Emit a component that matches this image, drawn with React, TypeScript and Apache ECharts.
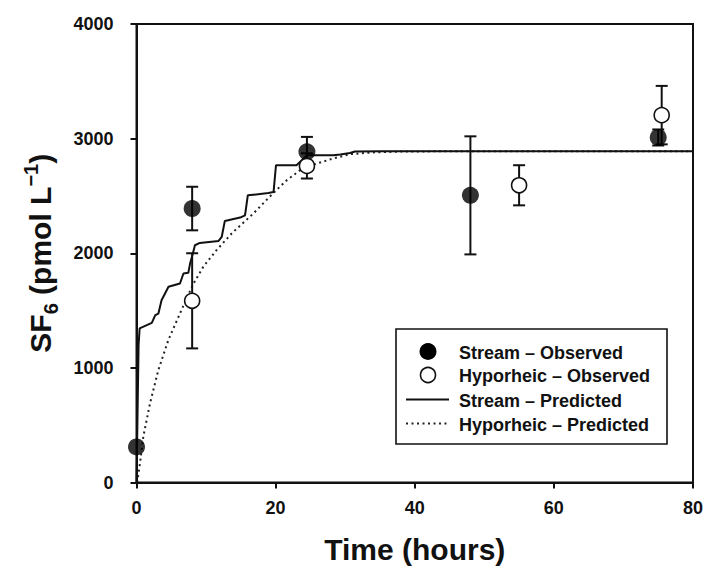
import { useEffect, useRef } from "react";
import * as echarts from "echarts";

// Axis ticks
const xTicks = [0, 20, 40, 60, 80];
const yTicks = [0, 1000, 2000, 3000, 4000];

// Observed SF6 concentrations (mean ± error)
const streamObsTime = [0, 8, 24.5, 48, 75];
const streamObsValue = [310, 2390, 2885, 2505, 3010];
const streamObsErr = [0, 190, 130, 515, 70];

const hypoObsTime = [8, 24.5, 55, 75.5];
const hypoObsValue = [1585, 2762, 2593, 3205];
const hypoObsErr = [415, 110, 175, 255];

// Model predictions
const streamPredTime = [0, 0.1, 0.3, 0.45, 2.2, 2.7, 3.15, 3.6, 4.6, 6.25, 6.75, 7.45, 7.7, 8.1, 8.4, 9.1, 11.8, 12.25, 12.7, 14.9, 15.6, 16.0, 18.95, 19.7, 20.05, 23.0, 24.5, 28.3, 29.3, 30.7, 31.4, 35, 80];
const streamPredValue = [0, 0, 1200, 1344, 1393, 1460, 1474, 1590, 1707, 1736, 1823, 1829, 1910, 1997, 2070, 2090, 2107, 2142, 2282, 2311, 2331, 2505, 2526, 2534, 2767, 2767, 2854, 2854, 2862, 2874, 2888, 2890, 2890];

const hypoPredTime = [0.1, 0.5, 0.98, 1.94, 3.14, 4.58, 6.25, 8.07, 9.6, 11.5, 13.8, 16.8, 19.6, 21.6, 23.5, 25.9, 28.25, 30.65, 34, 38, 45, 80];
const hypoPredValue = [0, 167, 400, 690, 981, 1243, 1475, 1722, 1882, 2027, 2180, 2347, 2521, 2637, 2724, 2783, 2826, 2864, 2880, 2887, 2890, 2890];

const legendLabels = [
  "Stream \u2013 Observed",
  "Hyporheic \u2013 Observed",
  "Stream \u2013 Predicted",
  "Hyporheic \u2013 Predicted",
];

const FONT = "'Liberation Sans', Arial, Helvetica, sans-serif";
const INK = "#111";

function pairs(xs: number[], ys: number[]) {
  return xs.map((x, i) => [x, ys[i]]);
}

function errorRows(xs: number[], ys: number[], es: number[]) {
  return xs
    .map((x, i) => [x, ys[i] - es[i], ys[i] + es[i]])
    .filter((r) => r[2] - r[1] > 0);
}

function renderErrorBar(params: any, api: any) {
  const x = api.value(0);
  const lo = api.coord([x, api.value(1)]);
  const hi = api.coord([x, api.value(2)]);
  const w = 6;
  const style = { stroke: INK, lineWidth: 2 };
  return {
    type: "group",
    children: [
      { type: "line", shape: { x1: lo[0], y1: lo[1], x2: hi[0], y2: hi[1] }, style },
      { type: "line", shape: { x1: lo[0] - w, y1: lo[1], x2: lo[0] + w, y2: lo[1] }, style },
      { type: "line", shape: { x1: hi[0] - w, y1: hi[1], x2: hi[0] + w, y2: hi[1] }, style },
    ],
  };
}

const plainNumber = (v: number) => String(v);

export default function App() {
  const ref = useRef<HTMLDivElement>(null);

  useEffect(() => {
    if (!ref.current) return;
    const chart = echarts.init(ref.current, null, { renderer: "svg" });

    const legendRows = [351.5, 375, 399.5, 423.5];
    const lx0 = 406;
    const lx1 = 449;
    const lcx = 428;

    chart.setOption({
      animation: false,
      backgroundColor: "#fff",
      grid: {
        left: 136.5,
        right: 14,
        top: 24,
        bottom: 88.5,
        show: true,
        borderColor: INK,
        borderWidth: 2,
        backgroundColor: "transparent",
      },
      xAxis: {
        type: "value",
        min: xTicks[0],
        max: xTicks[xTicks.length - 1],
        interval: xTicks[1] - xTicks[0],
        name: "Time (hours)",
        nameLocation: "middle",
        nameGap: 52,
        nameTextStyle: { fontSize: 30, fontWeight: "bold", fontFamily: FONT, color: INK },
        axisLine: { show: true, lineStyle: { color: INK, width: 2 } },
        axisTick: { show: true, inside: false, length: 6, lineStyle: { color: INK, width: 2 } },
        axisLabel: { fontSize: 18, fontWeight: "bold", fontFamily: FONT, color: INK, margin: 16, formatter: plainNumber },
        splitLine: { show: false },
      },
      yAxis: {
        type: "value",
        min: yTicks[0],
        max: yTicks[yTicks.length - 1],
        interval: yTicks[1] - yTicks[0],
        name: "{m|SF}{s|6}{m| (pmol L}{p|\u22121}{m|)}",
        nameLocation: "middle",
        nameGap: 76,
        nameRotate: 90,
        nameTextStyle: {
          fontFamily: FONT,
          fontWeight: "bold",
          color: INK,
          rich: {
            m: { fontSize: 30, fontWeight: "bold", fontFamily: FONT, color: INK, lineHeight: 40, verticalAlign: "middle" },
            s: { fontSize: 20, fontWeight: "bold", fontFamily: FONT, color: INK, lineHeight: 40, verticalAlign: "bottom" },
            p: { fontSize: 20, fontWeight: "bold", fontFamily: FONT, color: INK, lineHeight: 40, verticalAlign: "top" },
          },
        },
        axisLine: { show: true, lineStyle: { color: INK, width: 2 } },
        axisTick: { show: true, inside: false, length: 6, lineStyle: { color: INK, width: 2 } },
        axisLabel: { fontSize: 18, fontWeight: "bold", fontFamily: FONT, color: INK, margin: 23, formatter: plainNumber },
        splitLine: { show: false },
      },
      series: [
        {
          name: "Hyporheic \u2013 Predicted",
          type: "line",
          data: pairs(hypoPredTime, hypoPredValue),
          showSymbol: false,
          symbol: "none",
          lineStyle: { color: "#222", width: 2, type: [2, 3.5], cap: "butt" },
          z: 2,
        },
        {
          name: "Stream \u2013 Predicted",
          type: "line",
          data: pairs(streamPredTime, streamPredValue),
          showSymbol: false,
          symbol: "none",
          lineStyle: { color: INK, width: 2 },
          z: 3,
        },
        {
          name: "Stream error",
          type: "custom",
          renderItem: renderErrorBar,
          data: errorRows(streamObsTime, streamObsValue, streamObsErr),
          encode: { x: 0, y: [1, 2] },
          z: 4,
        },
        {
          name: "Hyporheic error",
          type: "custom",
          renderItem: renderErrorBar,
          data: errorRows(hypoObsTime, hypoObsValue, hypoObsErr),
          encode: { x: 0, y: [1, 2] },
          z: 4,
        },
        {
          name: "Stream \u2013 Observed",
          type: "scatter",
          data: pairs(streamObsTime, streamObsValue),
          symbol: "circle",
          symbolSize: 17,
          itemStyle: { color: "#000", borderColor: "#000", borderWidth: 0 },
          z: 5,
        },
        {
          name: "Hyporheic \u2013 Observed",
          type: "scatter",
          data: pairs(hypoObsTime, hypoObsValue),
          symbol: "circle",
          symbolSize: 15,
          itemStyle: { color: "#fff", borderColor: INK, borderWidth: 1.6, opacity: 1 },
          z: 6,
        },
      ],
      graphic: [
        {
          type: "group",
          z: 100,
          children: [
            {
              type: "rect",
              shape: { x: 396, y: 329, width: 271, height: 115 },
              style: { fill: "#fff", stroke: INK, lineWidth: 1.6 },
            },
            {
              type: "circle",
              shape: { cx: lcx, cy: legendRows[0], r: 8.5 },
              style: { fill: "#000" },
            },
            {
              type: "circle",
              shape: { cx: lcx, cy: legendRows[1], r: 7.5 },
              style: { fill: "#fff", stroke: INK, lineWidth: 1.6 },
            },
            {
              type: "line",
              shape: { x1: lx0, y1: legendRows[2], x2: lx1, y2: legendRows[2] },
              style: { stroke: INK, lineWidth: 2 },
            },
            {
              type: "line",
              shape: { x1: lx0, y1: legendRows[3], x2: lx1, y2: legendRows[3] },
              style: { stroke: "#222", lineWidth: 2, lineDash: [2, 3.5] },
            },
            ...legendLabels.map((label, i) => ({
              type: "text",
              style: {
                x: 459,
                y: legendRows[i] + 1,
                text: label,
                fill: INK,
                font: `bold 18px ${FONT}`,
                verticalAlign: "middle",
                align: "left",
              },
            })),
          ],
        },
      ],
    });

    return () => chart.dispose();
  }, []);

  return (
    <div
      ref={ref}
      style={{ position: "fixed", left: 0, top: 0, width: 707, height: 571, background: "#fff" }}
    />
  );
}
